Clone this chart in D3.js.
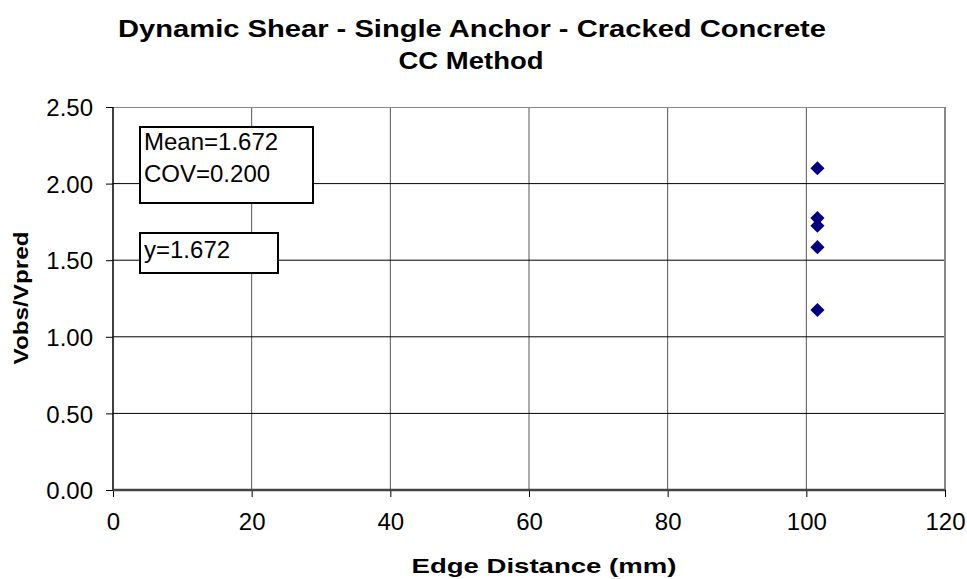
<!DOCTYPE html>
<html>
<head>
<meta charset="utf-8">
<script src="https://cdn.jsdelivr.net/npm/d3@7"></script>
<style>
  body { margin: 0; background: #fff; }
  text { font-family: "Liberation Sans", Arial, sans-serif; }
</style>
</head>
<body>
<svg id="chart" width="967" height="579"></svg>
<script>
// data
var edgeDist = [101.6, 101.6, 101.6, 101.6, 101.6];
var ratio    = [2.10, 1.775, 1.725, 1.585, 1.175];
var xTicks = [0, 20, 40, 60, 80, 100, 120];
var yTicks = [0, 0.5, 1.0, 1.5, 2.0, 2.5];
var statLines = ['Mean=1.672', 'COV=0.200'];
var fitLabel = 'y=1.672';

var svg = d3.select('#chart');
var margin = {top: 107, right: 22, bottom: 89, left: 113};
var width = 967 - margin.left - margin.right,
    height = 579 - margin.top - margin.bottom;

var x = d3.scaleLinear().domain([0, 120]).range([0, width]);
var y = d3.scaleLinear().domain([0, 2.5]).range([height, 0]);

var g = svg.append('g').attr('transform', 'translate(' + margin.left + ',' + margin.top + ')');

// titles (bold text in the original is drawn wide, so stretch to its length)
function boldText(sel, len) {
  return sel.style('font-weight', 'bold').attr('textLength', len).attr('lengthAdjust', 'spacingAndGlyphs');
}
boldText(svg.append('text').attr('x', 472).attr('y', 37).attr('text-anchor', 'middle')
  .style('font-size', '24px').text('Dynamic Shear - Single Anchor - Cracked Concrete'), 708);
boldText(svg.append('text').attr('x', 471).attr('y', 69).attr('text-anchor', 'middle')
  .style('font-size', '24px').text('CC Method'), 145);

// vertical grid
g.selectAll('line.vgrid').data(xTicks.slice(1, -1)).enter().append('line')
  .attr('class', 'vgrid')
  .attr('x1', function(d) { return x(d); }).attr('x2', function(d) { return x(d); })
  .attr('y1', 0).attr('y2', height)
  .attr('stroke', '#555').attr('stroke-width', 1);

// horizontal grid
g.selectAll('line.hgrid').data(yTicks.slice(1, -1)).enter().append('line')
  .attr('class', 'hgrid')
  .attr('x1', 0).attr('x2', width)
  .attr('y1', function(d) { return y(d); }).attr('y2', function(d) { return y(d); })
  .attr('stroke', '#000').attr('stroke-width', 1);

// plot border
g.append('line').attr('x1', 0).attr('x2', width).attr('y1', 0.5).attr('y2', 0.5).attr('stroke', '#888');
g.append('line').attr('x1', width).attr('x2', width).attr('y1', 0).attr('y2', height).attr('stroke', '#888').attr('stroke-width', 2);

// axes
var xAxis = d3.axisBottom(x).tickValues(xTicks).tickSize(7).tickPadding(16).tickFormat(d3.format('d'));
var yAxis = d3.axisLeft(y).tickValues(yTicks).tickSize(7).tickPadding(13).tickFormat(d3.format('.2f'));

var gx = g.append('g').attr('transform', 'translate(0,' + height + ')').call(xAxis);
var gy = g.append('g').call(yAxis);
[gx, gy].forEach(function(a) {
  a.select('.domain').remove();
  a.selectAll('.tick line').attr('stroke', '#000');
  a.selectAll('.tick text').style('font-size', '24px').attr('fill', '#000')
    .style('font-family', '"Liberation Sans", Arial, sans-serif');
});
gy.selectAll('.tick text').attr('dy', '0.36em');
g.append('line').attr('x1', 0).attr('x2', 0).attr('y1', 0).attr('y2', height).attr('stroke', '#000').attr('stroke-width', 1.5);
g.append('line').attr('x1', 0).attr('x2', width).attr('y1', height).attr('y2', height).attr('stroke', '#444').attr('stroke-width', 2.5);

// axis titles
boldText(svg.append('text').attr('x', 544).attr('y', 573).attr('text-anchor', 'middle')
  .style('font-size', '21px').text('Edge Distance (mm)'), 265);
boldText(svg.append('text').attr('transform', 'translate(28,298) rotate(-90)')
  .attr('text-anchor', 'middle')
  .style('font-size', '21px').text('Vobs/Vpred'), 133);

// annotation boxes
var box1 = g.append('g').attr('transform', 'translate(27,20)');
box1.append('rect').attr('width', 173).attr('height', 76).attr('fill', '#fff').attr('stroke', '#000').attr('stroke-width', 2);
box1.selectAll('text').data(statLines).enter().append('text')
  .attr('x', 4).attr('y', function(d, i) { return 23 + i * 32; })
  .style('font-size', '24px').text(function(d) { return d; });

var box2 = g.append('g').attr('transform', 'translate(27,126)');
box2.append('rect').attr('width', 138).attr('height', 40).attr('fill', '#fff').attr('stroke', '#000').attr('stroke-width', 2);
box2.append('text').attr('x', 4).attr('y', 25).style('font-size', '24px').text(fitLabel);

// points
var pts = edgeDist.map(function(d, i) { return {x: d, y: ratio[i]}; });
g.selectAll('path.pt').data(pts).enter().append('path')
  .attr('class', 'pt')
  .attr('d', d3.symbol().type(d3.symbolSquare).size(100))
  .attr('transform', function(d) { return 'translate(' + x(d.x) + ',' + y(d.y) + ') rotate(45)'; })
  .attr('fill', '#000080');
</script>
</body>
</html>
